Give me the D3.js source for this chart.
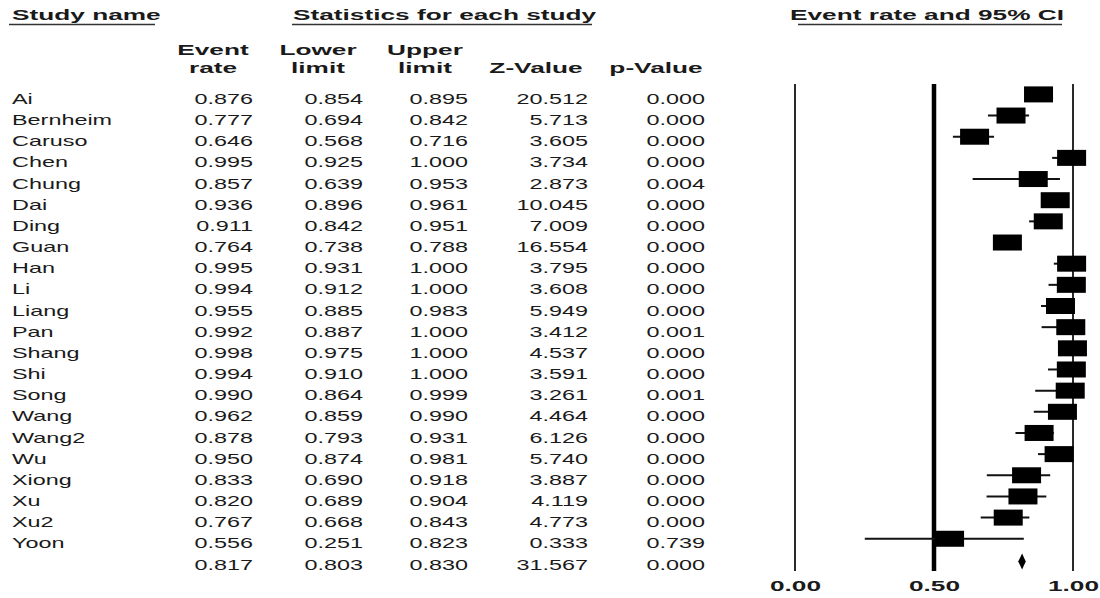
<!DOCTYPE html>
<html>
<head>
<meta charset="utf-8">
<script src="https://cdn.jsdelivr.net/npm/d3@7/dist/d3.min.js"></script>
<style>
  html, body { margin: 0; padding: 0; background: #fff; }
  svg { display: block; }
  text { font-family: "Liberation Sans", Arial, sans-serif; }
</style>
</head>
<body>
<svg id="chart" width="1100" height="598"></svg>
<script>
// Meta-analysis of event rates: per-study statistics and forest plot
const studies = ["Ai", "Bernheim", "Caruso", "Chen", "Chung", "Dai", "Ding", "Guan", "Han", "Li", "Liang",
  "Pan", "Shang", "Shi", "Song", "Wang", "Wang2", "Wu", "Xiong", "Xu", "Xu2", "Yoon"];
const eventRate = [0.876, 0.777, 0.646, 0.995, 0.857, 0.936, 0.911, 0.764, 0.995, 0.994, 0.955,
  0.992, 0.998, 0.994, 0.990, 0.962, 0.878, 0.950, 0.833, 0.820, 0.767, 0.556];
const lowerLimit = [0.854, 0.694, 0.568, 0.925, 0.639, 0.896, 0.842, 0.738, 0.931, 0.912, 0.885,
  0.887, 0.975, 0.910, 0.864, 0.859, 0.793, 0.874, 0.690, 0.689, 0.668, 0.251];
const upperLimit = [0.895, 0.842, 0.716, 1.000, 0.953, 0.961, 0.951, 0.788, 1.000, 1.000, 0.983,
  1.000, 1.000, 1.000, 0.999, 0.990, 0.931, 0.981, 0.918, 0.904, 0.843, 0.823];
const zValue = [20.512, 5.713, 3.605, 3.734, 2.873, 10.045, 7.009, 16.554, 3.795, 3.608, 5.949,
  3.412, 4.537, 3.591, 3.261, 4.464, 6.126, 5.740, 3.887, 4.119, 4.773, 0.333];
const pValue = [0.000, 0.000, 0.000, 0.000, 0.004, 0.000, 0.000, 0.000, 0.000, 0.000, 0.000,
  0.001, 0.000, 0.000, 0.001, 0.000, 0.000, 0.000, 0.000, 0.000, 0.000, 0.739];

// Pooled estimate: event rate, lower, upper, Z, p
const summaryStats = [0.817, 0.803, 0.830, 31.567, 0.000];

const columnTitles = [["Event", "rate"], ["Lower", "limit"], ["Upper", "limit"], ["", "Z-Value"], ["", "p-Value"]];
const axisTicks = [0, 0.5, 1];
const nullValue = 0.5;

const svg = d3.select("#chart");
const ink = "#1a1a1a";
const SX_REG = 1.56, SX_BOLD = 1.75, FS = 15;

// stretched text helper
function label(g, x, y, str, opts = {}) {
  return g.append("text")
    .attr("transform", `translate(${x},${y}) scale(${opts.bold ? SX_BOLD : SX_REG},1)`)
    .attr("text-anchor", opts.anchor || "start")
    .attr("font-size", FS)
    .attr("font-weight", opts.bold ? "bold" : "normal")
    .attr("fill", ink)
    .text(str);
}

const fmt3 = d3.format(".3f");
const fmt2 = d3.format(".2f");

const x = d3.scaleLinear().domain([0, 1]).range([795, 1073]);
const row = d3.scaleLinear().domain([0, studies.length]).range([104, 104 + studies.length * 21.16]);

// Headings with underlines
const head = svg.append("g");
label(head, 12, 20, "Study name", { bold: true });
label(head, 293, 20, "Statistics for each study", { bold: true });
label(head, 790, 20, "Event rate and 95% CI", { bold: true });
[[9, 155], [292, 592], [798, 1062]].forEach(([a, b]) => {
  head.append("line").attr("x1", a).attr("x2", b).attr("y1", 24.5).attr("y2", 24.5)
    .attr("stroke", "#333").attr("stroke-width", 1.6);
});

// Column headings and columns
const colCenters = [213, 318, 425, 536, 656];
const colRights = [253, 363, 468, 588, 705];
columnTitles.forEach((t, j) => {
  if (t[0]) label(head, colCenters[j], 55, t[0], { bold: true, anchor: "middle" });
  label(head, colCenters[j], 72.6, t[1], { bold: true, anchor: "middle" });
});

const table = svg.append("g");
const columns = [eventRate, lowerLimit, upperLimit, zValue, pValue];
studies.forEach((name, i) => {
  const y = row(i);
  label(table, 12, y, name);
  columns.forEach((col, j) => label(table, colRights[j], y, fmt3(col[i]), { anchor: "end" }));
});
summaryStats.forEach((v, j) => label(table, colRights[j], row(studies.length), fmt3(v), { anchor: "end" }));

// Forest plot reference lines
const plot = svg.append("g");
const yTop = 84, yBot = 571;
plot.selectAll("line.ref").data(axisTicks).join("line")
  .attr("class", "ref")
  .attr("x1", d => x(d)).attr("x2", d => x(d))
  .attr("y1", yTop).attr("y2", yBot)
  .attr("stroke", d => d === nullValue ? "#000" : "#2a2a2a")
  .attr("stroke-width", d => d === nullValue ? 4.5 : 2);

// Study estimates: CI whiskers and boxes
const boxW = 29, boxH = 16, off = 9.6;
const studyG = plot.selectAll("g.study").data(studies.map((s, i) => i)).join("g").attr("class", "study");
studyG.append("line")
  .attr("x1", i => x(lowerLimit[i])).attr("x2", i => x(upperLimit[i]))
  .attr("y1", i => row(i) - off).attr("y2", i => row(i) - off)
  .attr("stroke", "#111").attr("stroke-width", 2);
studyG.append("rect")
  .attr("x", i => x(eventRate[i]) - boxW / 2)
  .attr("y", i => row(i) - off - boxH / 2)
  .attr("width", boxW).attr("height", boxH)
  .attr("fill", "#000");

// Pooled diamond
const yc = row(studies.length) - 8, hh = 8;
plot.append("path")
  .attr("d", `M${x(summaryStats[1])},${yc} L${x(summaryStats[0])},${yc - hh} L${x(summaryStats[2])},${yc} L${x(summaryStats[0])},${yc + hh} Z`)
  .attr("fill", "#000");

// Axis labels
const axis = d3.axisBottom(x).tickValues(axisTicks).tickFormat(fmt2).tickSize(0).tickPadding(3);
const axG = svg.append("g").attr("transform", "translate(0,577)").call(axis);
axG.select(".domain").remove();
axG.selectAll("text")
  .attr("font-size", FS).attr("font-weight", "bold")
  .attr("font-family", "'Liberation Sans', Arial, sans-serif")
  .attr("fill", ink)
  .attr("transform", `scale(${SX_BOLD},1)`);
</script>
</body>
</html>
